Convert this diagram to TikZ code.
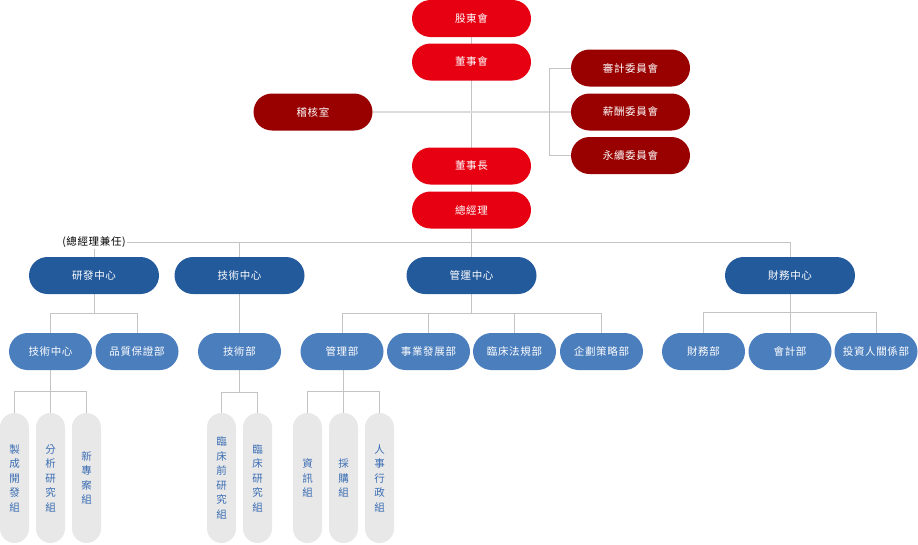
\documentclass[tikz,border=0pt]{standalone}
\usepackage{fontspec}
\setmainfont{Noto Sans CJK TC}
\newfontfamily\cjk[LetterSpace=6]{Noto Sans CJK TC}
\usetikzlibrary{backgrounds}
\definecolor{cred}{HTML}{E60012}
\definecolor{cdred}{HTML}{990000}
\definecolor{cdblue}{HTML}{235A9C}
\definecolor{clblue}{HTML}{4B7EBD}
\definecolor{cgray}{HTML}{E8E8E8}
\definecolor{ctext}{HTML}{3A6DB3}
\definecolor{cline}{HTML}{C4C4C4}
\definecolor{cline2}{HTML}{DCDCDC}
\begin{document}
\begin{tikzpicture}[x=1pt,y=-1pt,
  pill/.style={rectangle,rounded corners=18.5pt,minimum height=37pt,inner sep=0pt,text=white,font=\cjk\fontsize{10.5}{12}\selectfont},
  topbox/.style={pill,fill=cred,minimum width=119pt},
  combox/.style={pill,fill=cdred,minimum width=119pt},
  ctrbox/.style={pill,fill=cdblue,minimum width=130pt},
  deptbox/.style={pill,fill=clblue,minimum width=83pt},
  teambox/.style={rectangle,rounded corners=14.5pt,fill=cgray,minimum width=29pt,minimum height=130pt,inner sep=0pt,text=ctext,align=center,font=\fontsize{10.5}{14.5}\selectfont},
  conn/.style={draw=cline,line width=1pt},
  conn2/.style={draw=cline2,line width=2pt}
]
\useasboundingbox (0,0) rectangle (918,544);
% top
\node[topbox] (gd) at (471.5,18.5) {股東會};
\node[topbox] (bd) at (471.5,62) {董事會};
\node[topbox] (ch) at (471.5,166) {董事長};
\node[topbox] (gm) at (471.5,210) {總經理};
\node[combox] (au) at (313,112) {稽核室};
\node[combox] (ac) at (630.5,68) {審計委員會};
\node[combox] (rc) at (630.5,112) {薪酬委員會};
\node[combox] (sc) at (630.5,155.5) {永續委員會};
% centers
\node[font=\cjk\fontsize{10.5}{12}\selectfont,inner sep=1pt] (gml) at (94,242) {(總經理兼任)};
\node[ctrbox] (rd) at (94,275.5) {研發中心};
\node[ctrbox] (tc) at (239.5,275.5) {技術中心};
\node[ctrbox] (op) at (471.5,275.5) {管運中心};
\node[ctrbox] (fc) at (790,275.5) {財務中心};
% departments
\node[deptbox] (d1) at (50.5,351.5) {技術中心};
\node[deptbox] (d2) at (137,351.5) {品質保證部};
\node[deptbox] (d3) at (239.5,351.5) {技術部};
\node[deptbox] (d4) at (342,351.5) {管理部};
\node[deptbox] (d5) at (428.5,351.5) {事業發展部};
\node[deptbox] (d6) at (514.5,351.5) {臨床法規部};
\node[deptbox] (d7) at (601.5,351.5) {企劃策略部};
\node[deptbox] (d8) at (703.5,351.5) {財務部};
\node[deptbox] (d9) at (790,351.5) {會計部};
\node[deptbox] (d10) at (876,351.5) {投資人關係部};
% teams
\node[teambox] (t1) at (14.5,478) {製\\成\\開\\發\\組};
\node[teambox] (t2) at (50.5,478) {分\\析\\研\\究\\組};
\node[teambox] (t3) at (86.5,478) {新\\專\\案\\組};
\node[teambox] (t4) at (221.5,478) {臨\\床\\前\\研\\究\\組};
\node[teambox] (t5) at (257.5,478) {臨\\床\\研\\究\\組};
\node[teambox] (t6) at (307.5,478) {資\\訊\\組};
\node[teambox] (t7) at (343.5,478) {採\\購\\組};
\node[teambox] (t8) at (379.5,478) {人\\事\\行\\政\\組};
% connectors
\coordinate (bar1) at (471.5,242);
\coordinate (bar2) at (790,242);
\begin{scope}[on background layer]
\draw[conn] (gd) -- (gm.center);
\draw[conn] (gm.south) -- (bar1);
\draw[conn2] (au.east) -- (rc.west);
\draw[conn] (ac.west) -- ++(-21,0) |- (sc.west);
\draw[conn] (gml.east) -- (bar2) -- (fc.north);
\draw[conn] (gml.south) -- (rd.north);
\draw[conn] (tc.north) -- (tc.north |- bar1);
\draw[conn] (bar1) -- (op.north);
% RD
\draw[conn] (rd.south) -- ++(0,19.5) coordinate (rdj);
\draw[conn] (d1.north) |- (rdj) -| (d2.north);
% TC
\draw[conn] (tc.south) -- (d3.north);
% OP
\draw[conn] (op.south) -- ++(0,19.5) coordinate (opj);
\draw[conn] (d4.north) |- (opj) -| (d7.north);
\draw[conn] (d5.north) -- (d5.north |- opj);
\draw[conn] (d6.north) -- (d6.north |- opj);
% FC
\draw[conn] (fc.south) -- (d9.north);
\draw[conn] (d8.north) -- ++(0,-20) -| (d10.north);
% teams
\draw[conn] (d1.south) -- (t2.north);
\draw[conn] (t1.north) -- ++(0,-21) -| (t3.north);
\draw[conn] (d3.south) -- ++(0,22) coordinate (tj);
\draw[conn] (t4.north) |- (tj) -| (t5.north);
\draw[conn] (d4.south -| t7.north) -- (t7.north);
\draw[conn] (t6.north) -- ++(0,-21) -| (t8.north);
\end{scope}
\end{tikzpicture}
\end{document}
